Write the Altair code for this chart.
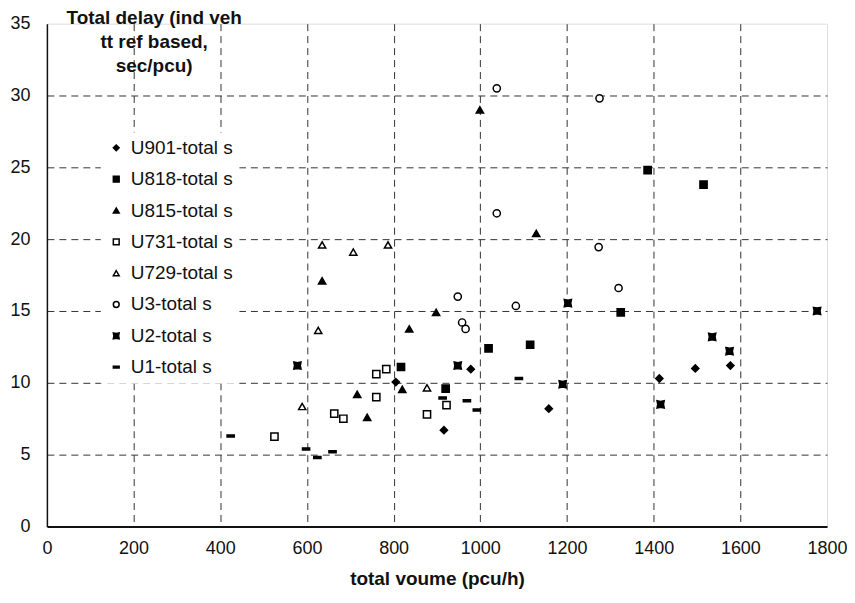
import altair as alt
import pandas as pd

# ---- data ----
series_order = ["U901-total s", "U818-total s", "U815-total s", "U731-total s",
                "U729-total s", "U3-total s", "U2-total s", "U1-total s"]

u901_x = [805, 916, 978, 1158, 1413, 1496, 1577]
u901_y = [10.05, 6.7, 10.95, 8.2, 10.3, 11.0, 11.2]

u818_x = [817, 920, 1019, 1115, 1324, 1386, 1515]
u818_y = [11.1, 9.6, 12.4, 12.65, 14.9, 24.8, 23.8]

u815_x = [635, 716, 739, 820, 836, 898, 999, 1129]
u815_y = [17.1, 9.2, 7.6, 9.55, 13.75, 14.9, 29.0, 20.4]

u731_x = [525, 663, 684, 760, 760, 783, 877, 922]
u731_y = [6.25, 7.85, 7.5, 10.6, 9.0, 10.95, 7.8, 8.45]

u729_x = [589, 626, 635, 707, 787, 877]
u729_y = [8.35, 13.65, 19.6, 19.1, 19.6, 9.65]

u3_x = [948, 958, 966, 1038, 1038, 1082, 1275, 1273, 1319]
u3_y = [16.0, 14.2, 13.75, 30.5, 21.8, 15.35, 29.8, 19.45, 16.6]

u2_x = [578, 948, 1190, 1202, 1416, 1535, 1575, 1777]
u2_y = [11.2, 11.2, 9.9, 15.55, 8.5, 13.2, 12.2, 15.0]

u1_x = [424, 598, 624, 659, 913, 969, 992, 1089]
u1_y = [6.3, 5.4, 4.8, 5.2, 8.95, 8.75, 8.1, 10.3]

x_ticks = [0, 200, 400, 600, 800, 1000, 1200, 1400, 1600, 1800]
y_ticks = [0, 5, 10, 15, 20, 25, 30, 35]

x_title = "total voume (pcu/h)"
y_title = ["Total delay (ind veh", "tt ref based,", "sec/pcu)"]

# ---- build table ----
all_x = [u901_x, u818_x, u815_x, u731_x, u729_x, u3_x, u2_x, u1_x]
all_y = [u901_y, u818_y, u815_y, u731_y, u729_y, u3_y, u2_y, u1_y]
rows = []
for name, xs, ys in zip(series_order, all_x, all_y):
    for xv, yv in zip(xs, ys):
        rows.append({"series": name, "volume": xv, "delay": yv})
df = pd.DataFrame(rows)

bowtie = "M-1,-1L0,-0.8L1,-1L0.8,0L1,1L0,0.8L-1,1L-0.8,0Z"
dash = "M-1,-0.28L1,-0.28L1,0.28L-1,0.28Z"
shapes = ["diamond", "square", "triangle-up", "square", "triangle-up", "circle", bowtie, dash]
fills = ["black", "black", "black", "white", "white", "white", "black", "black"]
strokes = ["black"] * 8

FONT = "Liberation Sans"

leg = alt.Legend(
    title=None, orient="none", legendX=54, legendY=109,
    fillColor="white", padding=6,
    labelFont=FONT, labelFontSize=19, labelColor="#111", labelOffset=5, labelLimit=300,
    symbolSize=34, symbolStrokeWidth=1.5,
    rowPadding=11.4,
)

grid_x = {"condition": {"test": "datum.value == 0 || datum.value == 1800", "value": 0}, "value": 1}
grid_y = {"condition": {"test": "datum.value == 0 || datum.value == 35", "value": 0}, "value": 1}

chart = alt.Chart(df).mark_point(
    size=52, strokeWidth=1.5, opacity=1, fillOpacity=1, strokeOpacity=1
).encode(
    x=alt.X("volume:Q",
            scale=alt.Scale(domain=[0, 1800], nice=False, zero=True),
            axis=alt.Axis(values=x_ticks, title=x_title, format="d", grid=True, gridOpacity=grid_x,
                          gridDash=[7, 5], gridColor="#333", gridWidth=1,
                          ticks=False, tickSize=0, labelPadding=13, labelFlush=False,
                          labelFont=FONT, labelFontSize=18, labelColor="#111",
                          domainColor="#111", domainWidth=2,
                          titleFont=FONT, titleFontSize=19, titleFontWeight="bold",
                          titleColor="#111", titlePadding=12)),
    y=alt.Y("delay:Q",
            scale=alt.Scale(domain=[0, 35], nice=False),
            axis=alt.Axis(values=y_ticks, title=y_title, format="d", grid=True, gridOpacity=grid_y,
                          gridDash=[7, 5], gridColor="#333", gridWidth=1,
                          ticks=False, tickSize=0, labelPadding=17,
                          labelFont=FONT, labelFontSize=18, labelColor="#111",
                          domainColor="#111", domainWidth=1.5,
                          titleFont=FONT, titleFontSize=19, titleFontWeight="bold",
                          titleColor="#111", titleAngle=0, titleAlign="center",
                          titleBaseline="top", titleX=107, titleY=-15,
                          titleLineHeight=24)),
    shape=alt.Shape("series:N", scale=alt.Scale(domain=series_order, range=shapes), legend=leg),
    fill=alt.Fill("series:N", scale=alt.Scale(domain=series_order, range=fills), legend=leg),
    stroke=alt.Stroke("series:N", scale=alt.Scale(domain=series_order, range=strokes), legend=leg),
).properties(
    width=782, height=504,
    autosize=alt.AutoSizeParams(type="none"),
    padding={"left": 39, "top": 15, "right": 20, "bottom": 70},
).configure_view(
    stroke="#555", strokeDash=[2, 2], strokeWidth=1
).configure(background="white")

chart.save("out.html", embed_options={"renderer": "svg", "actions": False})
